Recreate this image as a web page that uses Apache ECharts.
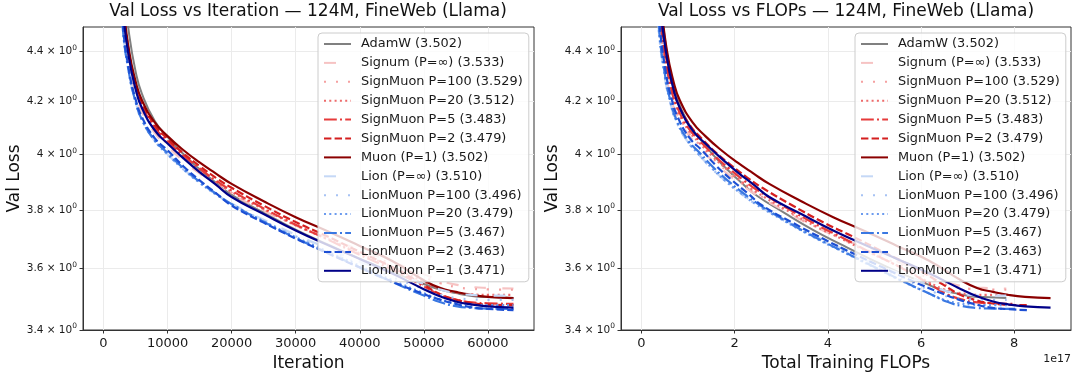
<!DOCTYPE html>
<html>
<head>
<meta charset="utf-8">
<script src="https://cdn.jsdelivr.net/npm/echarts@6/dist/echarts.min.js"></script>
<style>
  html, body { margin: 0; padding: 0; background: #fff; }
  #chart { width: 1078px; height: 381px; }
</style>
</head>
<body>
<div id="chart"></div>
<script>
// eval checkpoints (iterations)
const iterations = [0, 1000, 2000, 3000, 4000, 5000, 6000, 8000, 10000, 12500, 15000, 17500,
  20000, 25000, 30000, 35000, 40000, 45000, 50000, 52500, 55000, 57500, 60000, 64000];

// val loss per run
const adamW      = [10.9, 6.80, 5.30, 4.72, 4.47, 4.32, 4.23, 4.125, 4.065, 4.000, 3.945, 3.897, 3.853, 3.790, 3.731, 3.680, 3.632, 3.588, 3.548, 3.530, 3.518, 3.509, 3.505, 3.502];
const signum     = [10.9, 6.30, 5.00, 4.55, 4.35, 4.23, 4.16, 4.080, 4.030, 3.975, 3.930, 3.890, 3.855, 3.797, 3.745, 3.702, 3.662, 3.622, 3.580, 3.560, 3.546, 3.538, 3.535, 3.533];
const signMuon100 = [10.9, 6.50, 5.10, 4.59, 4.37, 4.25, 4.175, 4.090, 4.040, 3.985, 3.938, 3.896, 3.860, 3.800, 3.746, 3.700, 3.656, 3.614, 3.570, 3.551, 3.538, 3.532, 3.530, 3.529];
const signMuon20 = [10.9, 6.50, 5.10, 4.60, 4.38, 4.26, 4.18, 4.095, 4.045, 3.990, 3.943, 3.900, 3.863, 3.802, 3.746, 3.698, 3.650, 3.605, 3.555, 3.532, 3.520, 3.514, 3.512, 3.512];
const signMuon5  = [10.9, 6.50, 5.10, 4.60, 4.38, 4.26, 4.185, 4.100, 4.050, 3.995, 3.948, 3.905, 3.868, 3.805, 3.748, 3.697, 3.645, 3.596, 3.540, 3.513, 3.497, 3.488, 3.485, 3.483];
const signMuon2  = [10.9, 6.50, 5.12, 4.62, 4.39, 4.27, 4.195, 4.110, 4.058, 4.003, 3.957, 3.915, 3.878, 3.815, 3.757, 3.707, 3.655, 3.604, 3.545, 3.515, 3.497, 3.486, 3.481, 3.479];
const muon       = [10.9, 6.45, 5.10, 4.62, 4.40, 4.28, 4.205, 4.120, 4.068, 4.015, 3.970, 3.930, 3.892, 3.830, 3.774, 3.725, 3.675, 3.625, 3.560, 3.535, 3.522, 3.512, 3.506, 3.502];
const lion       = [10.9, 6.20, 4.95, 4.50, 4.31, 4.20, 4.13, 4.050, 4.000, 3.945, 3.898, 3.858, 3.822, 3.765, 3.713, 3.667, 3.622, 3.585, 3.548, 3.530, 3.518, 3.512, 3.510, 3.510];
const lionMuon100 = [10.9, 6.20, 4.95, 4.50, 4.31, 4.20, 4.13, 4.050, 4.000, 3.944, 3.897, 3.856, 3.820, 3.762, 3.708, 3.660, 3.613, 3.571, 3.532, 3.513, 3.502, 3.498, 3.496, 3.496];
const lionMuon20 = [10.9, 6.20, 4.95, 4.50, 4.31, 4.20, 4.13, 4.050, 4.000, 3.944, 3.896, 3.855, 3.819, 3.760, 3.705, 3.656, 3.608, 3.561, 3.518, 3.498, 3.486, 3.481, 3.479, 3.479];
const lionMuon5  = [10.9, 6.25, 4.97, 4.50, 4.31, 4.20, 4.13, 4.052, 4.005, 3.948, 3.900, 3.858, 3.820, 3.758, 3.702, 3.652, 3.603, 3.555, 3.510, 3.489, 3.476, 3.470, 3.468, 3.467];
const lionMuon2  = [10.9, 6.30, 5.00, 4.52, 4.32, 4.21, 4.14, 4.060, 4.015, 3.955, 3.905, 3.860, 3.815, 3.755, 3.700, 3.650, 3.602, 3.556, 3.515, 3.497, 3.483, 3.472, 3.467, 3.463];
const lionMuon1  = [10.9, 6.40, 5.05, 4.58, 4.37, 4.25, 4.175, 4.090, 4.040, 3.985, 3.935, 3.890, 3.845, 3.785, 3.728, 3.678, 3.631, 3.583, 3.531, 3.508, 3.491, 3.481, 3.475, 3.471];

// total training FLOPs at the last iteration, in units of 1e17
const totalFlops = [7.83, 7.83, 7.84, 7.88, 8.02, 8.30, 8.78, 7.83, 7.84, 7.88, 8.02, 8.30, 8.78];

const runNames = [
  'AdamW (3.502)', 'Signum (P=∞) (3.533)', 'SignMuon P=100 (3.529)', 'SignMuon P=20 (3.512)',
  'SignMuon P=5 (3.483)', 'SignMuon P=2 (3.479)', 'Muon (P=1) (3.502)', 'Lion (P=∞) (3.510)',
  'LionMuon P=100 (3.496)', 'LionMuon P=20 (3.479)', 'LionMuon P=5 (3.467)', 'LionMuon P=2 (3.463)',
  'LionMuon P=1 (3.471)'
];
const runValues = [adamW, signum, signMuon100, signMuon20, signMuon5, signMuon2, muon,
  lion, lionMuon100, lionMuon20, lionMuon5, lionMuon2, lionMuon1];

const xTicksIter = [0, 10000, 20000, 30000, 40000, 50000, 60000];
const xTicksFlops = [0, 2, 4, 6, 8];
const yTicks = [3.4, 3.6, 3.8, 4.0, 4.2, 4.4];

// line look per run
const looks = [
  { color: '#808080', type: 'solid', width: 2 },
  { color: '#f6c3c3', type: [12, 16], width: 2.2 },
  { color: '#f5a0a0', type: [2, 10], width: 2.2 },
  { color: '#ee6b6b', type: [2, 3.3], width: 2.2 },
  { color: '#e63b3b', type: [12.8, 3.2, 2, 3.2], width: 2.2 },
  { color: '#d41f1f', type: [7.4, 3.2], width: 2.2 },
  { color: '#8b0000', type: 'solid', width: 2.2 },
  { color: '#c5d8f6', type: [12, 16], width: 2.2 },
  { color: '#a6c2f4', type: [2, 10], width: 2.2 },
  { color: '#6c9bee', type: [2, 3.3], width: 2.2 },
  { color: '#3a78e2', type: [12.8, 3.2, 2, 3.2], width: 2.2 },
  { color: '#1c4fd4', type: [7.4, 3.2], width: 2.2 },
  { color: '#000088', type: 'solid', width: 2.2 }
];

const FONT = 'DejaVu Sans';
const chart = echarts.init(document.getElementById('chart'), null, { renderer: 'canvas' });

// "4.2 × 10^0" style tick labels
function yLabel(v) {
  const r = Math.round(v * 10) / 10;
  return '{m|' + String(r) + ' × 10}{s|0}';
}

function makeSeries(panel) {
  const last = iterations[iterations.length - 1];
  return runNames.map((name, k) => {
    const data = iterations.map((it, i) => {
      const x = panel === 0 ? it : it / last * totalFlops[k];
      return [x, runValues[k][i]];
    });
    return {
      name: name,
      type: 'line',
      xAxisIndex: panel,
      yAxisIndex: panel,
      data: data,
      symbol: 'none',
      showSymbol: false,
      smooth: 0.5,
      clip: true,
      lineStyle: { color: looks[k].color, width: looks[k].width, type: looks[k].type },
      itemStyle: { color: looks[k].color },
      emphasis: { disabled: true }
    };
  });
}

function xAxisOf(panel) {
  const iter = panel === 0;
  return {
    type: 'value',
    gridIndex: panel,
    min: iter ? -3200 : -0.439,
    max: iter ? 67200 : 9.219,
    name: iter ? 'Iteration' : 'Total Training FLOPs',
    nameLocation: 'middle',
    nameGap: 21,
    nameTextStyle: { fontFamily: FONT, fontSize: 17, color: '#111' },
    axisLine: { show: true, onZero: false, lineStyle: { color: '#333', width: 1 } },
    axisTick: { show: true, length: 3.5, customValues: iter ? xTicksIter : xTicksFlops, lineStyle: { color: '#333' } },
    axisLabel: { customValues: iter ? xTicksIter : xTicksFlops, fontFamily: FONT, fontSize: 13, color: '#1a1a1a', margin: 7,
      formatter: v => String(v) },
    splitLine: { show: true, lineStyle: { color: '#ebebeb', width: 1 } }
  };
}

function yAxisOf(panel) {
  return {
    type: 'log',
    logBase: 10,
    gridIndex: panel,
    min: 3.4,
    max: 4.5,
    name: 'Val Loss',
    nameLocation: 'middle',
    nameGap: 57,
    nameTextStyle: { fontFamily: FONT, fontSize: 17, color: '#111' },
    axisLine: { show: true, onZero: false, lineStyle: { color: '#333', width: 1 } },
    axisTick: { show: true, length: 3.5, customValues: yTicks, lineStyle: { color: '#333' } },
    axisLabel: {
      customValues: yTicks, margin: 6, formatter: yLabel,
      rich: {
        m: { fontFamily: FONT, fontSize: 10.5, color: '#1a1a1a' },
        s: { fontFamily: FONT, fontSize: 7.5, color: '#1a1a1a', padding: [0, 0, 7, 0] }
      }
    },
    minorTick: { show: false },
    splitLine: { show: true, lineStyle: { color: '#ebebeb', width: 1 } }
  };
}

function legendOf(left) {
  return {
    show: true,
    orient: 'vertical',
    left: left,
    top: 33,
    padding: [4.5, 6, 4.5, 5],
    itemWidth: 27,
    itemHeight: 14,
    itemGap: 5.9,
    backgroundColor: 'rgba(255,255,255,0.8)',
    borderColor: '#cccccc',
    borderWidth: 1,
    borderRadius: 4,
    selectedMode: false,
    itemStyle: { opacity: 0 },
    data: runNames,
    textStyle: { fontFamily: FONT, fontSize: 12.9, color: '#1a1a1a', padding: [0, 0, 0, 5] }
  };
}

const option = {
  animation: false,
  backgroundColor: '#fff',
  title: [
    { text: 'Val Loss vs Iteration — 124M, FineWeb (Llama)', left: 308, top: 3, textAlign: 'center', padding: 0,
      textStyle: { fontFamily: FONT, fontSize: 17, fontWeight: 'normal', color: '#111' } },
    { text: 'Val Loss vs FLOPs — 124M, FineWeb (Llama)', left: 846, top: 3, textAlign: 'center', padding: 0,
      textStyle: { fontFamily: FONT, fontSize: 17, fontWeight: 'normal', color: '#111' } }
  ],
  grid: [
    { left: 83, top: 27, width: 451, height: 303, show: true, borderColor: '#333', borderWidth: 1, backgroundColor: 'transparent' },
    { left: 621, top: 27, width: 450, height: 303, show: true, borderColor: '#333', borderWidth: 1, backgroundColor: 'transparent' }
  ],
  legend: [legendOf(318), legendOf(855)],
  xAxis: [xAxisOf(0), xAxisOf(1)],
  yAxis: [yAxisOf(0), yAxisOf(1)],
  series: makeSeries(0).concat(makeSeries(1)),
  graphic: [
    { type: 'text', right: 7, top: 354, style: { text: '1e17', fontFamily: FONT, fontSize: 11, fill: '#1a1a1a' } }
  ]
};

chart.setOption(option);
</script>
</body>
</html>
